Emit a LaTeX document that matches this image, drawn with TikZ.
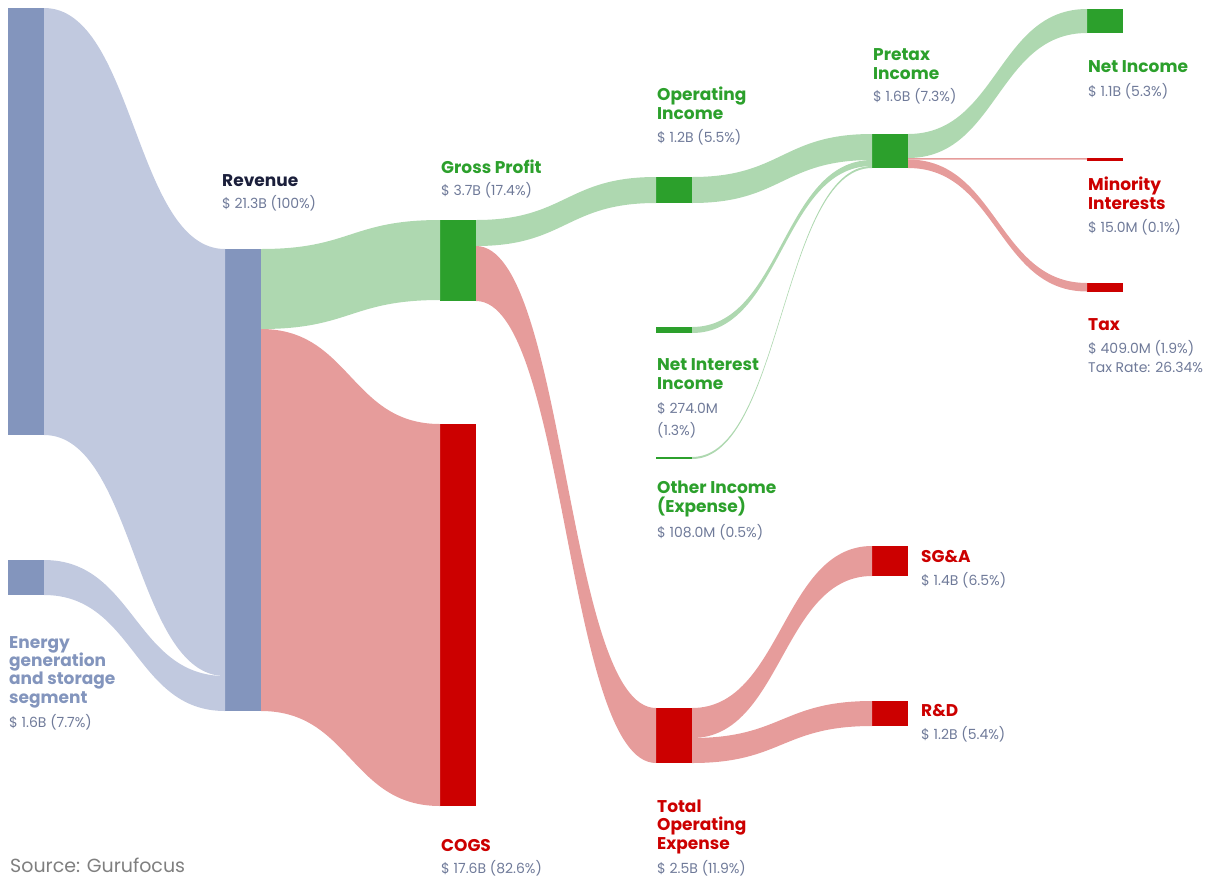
\documentclass[tikz,border=0pt]{standalone}
\usepackage{fontspec}
\setmainfont{Poppins}
\usepackage{xcolor}
\usepackage{tikz}
\usetikzlibrary{calc}

\definecolor{barblue}{HTML}{8395BD}
\definecolor{flowblue}{HTML}{C1C9DF}
\definecolor{bargreen}{HTML}{2CA02C}
\definecolor{flowgreen}{HTML}{AED8B0}
\definecolor{barred}{HTML}{CC0000}
\definecolor{flowred}{HTML}{E69C9B}
\definecolor{navy}{HTML}{1B1F3B}
\definecolor{valgray}{HTML}{6F7A99}
\definecolor{srcgray}{HTML}{7F7F7F}

% band from #1 (offset #2) to #3 (offset #4), thickness #5, colour #6
\newcommand{\flow}[6]{%
  \fill[#6] let \p1=($(#1.north east)+(0,#2)$), \p2=($(#3.north west)+(0,#4)$),
    \p3=($(#1.north east)+(0,#2+#5)$), \p4=($(#3.north west)+(0,#4+#5)$),
    \n1={0.5*\x1+0.5*\x2} in
    (\p1) .. controls (\n1,\y1) and (\n1,\y2) .. (\p2) -- (\p4)
    .. controls (\n1,\y4) and (\n1,\y3) .. (\p3) -- cycle;}

\begin{document}
\begin{tikzpicture}[x=1pt,y=-1pt,
    bar/.style={fill=#1,draw=none,inner sep=0pt,outer sep=0pt,minimum width=36pt,anchor=north west},
    head/.style={anchor=base west,inner sep=0pt,align=left,text=#1,font=\fontsize{17}{18.3}\selectfont\bfseries},
    amount/.style={anchor=base west,inner sep=0pt,align=left,text=valgray,font=\fontsize{14}{22}\selectfont}]
  \useasboundingbox (0,0) rectangle (1223,879);

  % bars
  \node[bar=barblue,minimum height=427pt] (seg) at (8,8) {};
  \node[bar=barblue,minimum height=35pt] (energy) at (8,560) {};
  \node[bar=barblue,minimum height=462pt] (rev) at (225,249) {};
  \node[bar=bargreen,minimum height=81pt] (gp) at (440,220) {};
  \node[bar=barred,minimum height=382pt] (cogs) at (440,424) {};
  \node[bar=bargreen,minimum height=26pt] (opinc) at (656,177) {};
  \node[bar=bargreen,minimum height=6pt] (nii) at (656,327) {};
  \node[bar=bargreen,minimum height=2pt] (other) at (656,457) {};
  \node[bar=barred,minimum height=55pt] (opex) at (656,708) {};
  \node[bar=bargreen,minimum height=34pt] (pretax) at (872,134) {};
  \node[bar=barred,minimum height=30pt] (sga) at (872,546) {};
  \node[bar=barred,minimum height=25pt] (rnd) at (872,701) {};
  \node[bar=bargreen,minimum height=24pt] (netinc) at (1087,9) {};
  \node[bar=barred,minimum height=3pt] (minority) at (1087,158) {};
  \node[bar=barred,minimum height=9pt] (tax) at (1087,283) {};

  % flows
  \flow{seg}{0}{rev}{0}{427}{flowblue}
  \flow{energy}{0}{rev}{427}{35}{flowblue}
  \flow{rev}{0}{gp}{0}{80}{flowgreen}
  \flow{rev}{80}{cogs}{0}{382}{flowred}
  \flow{gp}{0}{opinc}{0}{26}{flowgreen}
  \flow{gp}{26}{opex}{0}{55}{flowred}
  \flow{opinc}{0}{pretax}{0}{26}{flowgreen}
  \flow{nii}{0}{pretax}{26}{6}{flowgreen}
  \flow{other}{0}{pretax}{32}{2}{flowgreen}
  \flow{pretax}{0}{netinc}{0}{24}{flowgreen}
  \flow{pretax}{24}{minority}{0}{1.5}{flowred}
  \flow{pretax}{25.5}{tax}{0}{8.5}{flowred}
  \flow{opex}{0}{sga}{0}{30}{flowred}
  \flow{opex}{30}{rnd}{0}{25}{flowred}

  % labels (base = baseline of the last line)
  \node[head=navy] (revT) at (222,186) {Revenue};
  \node[amount] (revV) at (222,208) {\$ 21.3B (100\%)};
  \node[head=bargreen] (gpT) at (441,173) {Gross Profit};
  \node[amount] (gpV) at (441,195) {\$ 3.7B (17.4\%)};
  \node[head=barred] (cogsT) at (441,851) {COGS};
  \node[amount] (cogsV) at (441,873) {\$ 17.6B (82.6\%)};
  \node[head=bargreen] (opincT) at (657,119) {Operating\\Income};
  \node[amount] (opincV) at (657,142) {\$ 1.2B (5.5\%)};
  \node[head=bargreen] (niiT) at (657,389) {Net Interest\\Income};
  \node[amount] (niiV) at (657,435) {\$ 274.0M\\(1.3\%)};
  \node[head=bargreen] (otherT) at (657,512) {Other Income\\(Expense)};
  \node[amount] (otherV) at (657,537) {\$ 108.0M (0.5\%)};
  \node[head=barred] (opexT) at (657,849) {Total\\Operating\\Expense};
  \node[amount] (opexV) at (657,873) {\$ 2.5B (11.9\%)};
  \node[head=bargreen] (pretaxT) at (873,79) {Pretax\\Income};
  \node[amount] (pretaxV) at (873,101) {\$ 1.6B (7.3\%)};
  \node[head=barred] (sgaT) at (921,562) {SG\&A};
  \node[amount] (sgaV) at (921,585) {\$ 1.4B (6.5\%)};
  \node[head=barred] (rndT) at (921,716) {R\&D};
  \node[amount] (rndV) at (921,739) {\$ 1.2B (5.4\%)};
  \node[head=bargreen] (netincT) at (1088,72) {Net Income};
  \node[amount] (netincV) at (1088,96) {\$ 1.1B (5.3\%)};
  \node[head=barred] (minorityT) at (1088,209) {Minority\\Interests};
  \node[amount] (minorityV) at (1088,232) {\$ 15.0M (0.1\%)};
  \node[head=barred] (taxT) at (1088,330) {Tax};
  \node[amount,font=\fontsize{14}{19}\selectfont] (taxV) at (1088,372) {\$ 409.0M (1.9\%)\\Tax Rate: 26.34\%};
  \node[head=barblue] (energyT) at (9,703) {Energy\\generation\\and storage\\segment};
  \node[amount] (energyV) at (9,727) {\$ 1.6B (7.7\%)};
  \node[anchor=base west,inner sep=0pt,text depth=0pt,text=srcgray,font=\fontsize{19}{22}\selectfont] (src) at (10,872) {Source: Gurufocus};
\end{tikzpicture}
\end{document}
